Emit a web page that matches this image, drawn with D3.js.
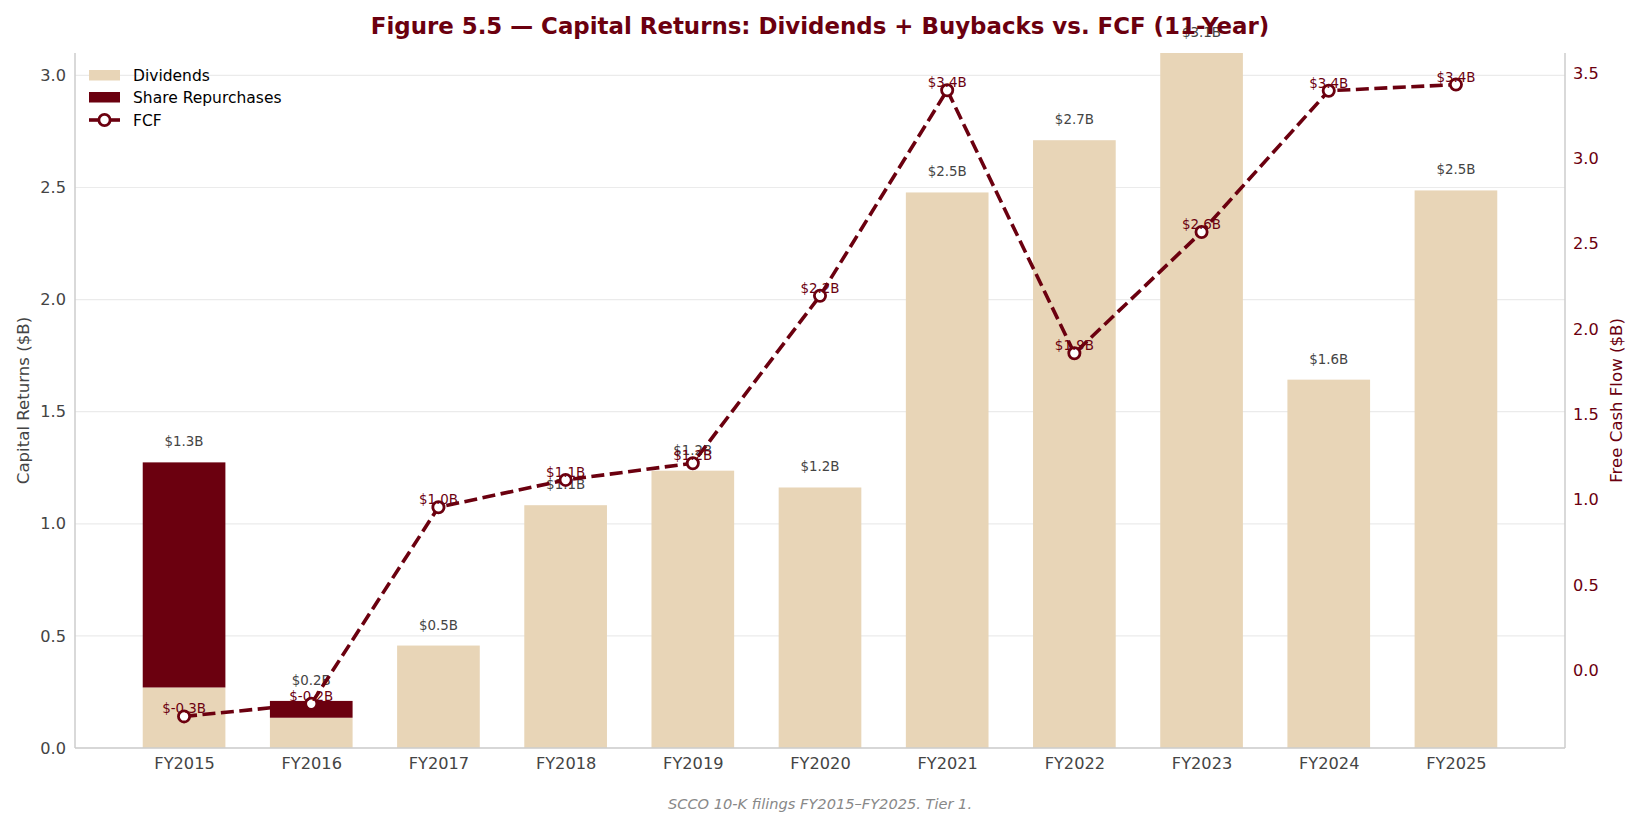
<!DOCTYPE html>
<html>
<head>
<meta charset="utf-8">
<script src="https://cdn.jsdelivr.net/npm/d3@7"></script>
<style>
  body { margin: 0; background: #fff; }
  svg { display: block; font-family: "DejaVu Sans", sans-serif; }
</style>
</head>
<body>
<svg id="display"></svg>
<script>
// data
const years = ['FY2015', 'FY2016', 'FY2017', 'FY2018', 'FY2019', 'FY2020', 'FY2021', 'FY2022', 'FY2023', 'FY2024', 'FY2025']
const dividends = [0.27, 0.135, 0.457, 1.083, 1.237, 1.162, 2.478, 2.711, 3.1, 1.643, 2.487]
const buybacks = [1.004, 0.075, 0, 0, 0, 0, 0, 0, 0, 0, 0]
const fcf = [-0.27, -0.196, 0.956, 1.116, 1.214, 2.195, 3.40, 1.858, 2.569, 3.397, 3.433]
const leftTicks = [0, 0.5, 1.0, 1.5, 2.0, 2.5, 3.0]
const rightTicks = [0, 0.5, 1.0, 1.5, 2.0, 2.5, 3.0, 3.5]

const maroon = '#6b000f'
const sand = '#e8d5b7'
const grey = '#444'

let width = 1640
let height = 827
let m = { left: 75, right: 1565, top: 53, bottom: 748 }

let svg = d3.select('#display')
  .attr('width', width)
  .attr('height', height)

let totals = dividends.map((d, i) => d + buybacks[i])

// x: bar index with matplotlib-like margins
let barW = 0.65
let xPad = barW / 2 + 0.05 * (years.length - 1 + barW)
const xScale = d3.scaleLinear()
  .domain([-xPad, years.length - 1 + xPad])
  .range([m.left, m.right])

const yScale = d3.scaleLinear()
  .domain([0, d3.max(totals)])
  .range([m.bottom, m.top])

let fMin = d3.min(fcf), fMax = d3.max(fcf)
let fPad = 0.05 * (fMax - fMin)
const y2Scale = d3.scaleLinear()
  .domain([fMin - fPad, fMax + fPad])
  .range([m.bottom, m.top])

// gridlines
svg.append('g')
  .selectAll('line')
  .data(leftTicks)
  .enter()
  .append('line')
  .attr('x1', m.left)
  .attr('x2', m.right)
  .attr('y1', d => yScale(d))
  .attr('y2', d => yScale(d))
  .attr('stroke', '#ebebeb')
  .attr('stroke-width', 1.2)

// bars
let bw = xScale(barW) - xScale(0)
svg.append('g')
  .selectAll('rect')
  .data(dividends)
  .enter()
  .append('rect')
  .attr('x', (d, i) => xScale(i) - bw / 2)
  .attr('y', d => yScale(d))
  .attr('width', bw)
  .attr('height', d => m.bottom - yScale(d))
  .attr('fill', sand)

svg.append('g')
  .selectAll('rect')
  .data(buybacks)
  .enter()
  .append('rect')
  .attr('x', (d, i) => xScale(i) - bw / 2)
  .attr('y', (d, i) => yScale(d + dividends[i]))
  .attr('width', bw)
  .attr('height', (d, i) => yScale(dividends[i]) - yScale(d + dividends[i]))
  .attr('fill', maroon)

// total labels
svg.append('g')
  .selectAll('text')
  .data(totals)
  .enter()
  .append('text')
  .attr('x', (d, i) => xScale(i))
  .attr('y', d => yScale(d) - 16)
  .attr('text-anchor', 'middle')
  .attr('font-size', 13.4)
  .attr('fill', grey)
  .text(d => '$' + d.toFixed(1) + 'B')

// spines
svg.append('line').attr('x1', m.left).attr('x2', m.left).attr('y1', m.top).attr('y2', m.bottom)
  .attr('stroke', '#ccc').attr('stroke-width', 1.5)
svg.append('line').attr('x1', m.right).attr('x2', m.right).attr('y1', m.top).attr('y2', m.bottom)
  .attr('stroke', '#ccc').attr('stroke-width', 1.5)
svg.append('line').attr('x1', m.left).attr('x2', m.right).attr('y1', m.bottom).attr('y2', m.bottom)
  .attr('stroke', '#ccc').attr('stroke-width', 1.5)

// axes
const xAxis = d3.axisBottom(xScale).tickValues(d3.range(years.length)).tickFormat(i => years[i]).tickSize(0).tickPadding(9)
const yAxis = d3.axisLeft(yScale).tickValues(leftTicks).tickFormat(d3.format('.1f')).tickSize(0).tickPadding(9)
const y2Axis = d3.axisRight(y2Scale).tickValues(rightTicks).tickFormat(d3.format('.1f')).tickSize(0).tickPadding(8)

let gx = svg.append('g').attr('transform', 'translate(0,' + m.bottom + ')').call(xAxis)
let gy = svg.append('g').attr('transform', 'translate(' + m.left + ',0)').call(yAxis)
let gy2 = svg.append('g').attr('transform', 'translate(' + m.right + ',0)').call(y2Axis)
;[gx, gy, gy2].forEach(g => {
  g.select('.domain').remove()
  g.selectAll('text').attr('font-size', 16.2).attr('font-family', '"DejaVu Sans", sans-serif')
})
gx.selectAll('text').attr('fill', grey)
gy.selectAll('text').attr('fill', grey)
gy2.selectAll('text').attr('fill', maroon)

// axis titles
svg.append('text')
  .attr('transform', 'translate(29,' + (m.top + m.bottom) / 2 + ') rotate(-90)')
  .attr('text-anchor', 'middle')
  .attr('font-size', 16.6)
  .attr('fill', grey)
  .text('Capital Returns ($B)')

svg.append('text')
  .attr('transform', 'translate(1622,' + (m.top + m.bottom) / 2 + ') rotate(-90)')
  .attr('text-anchor', 'middle')
  .attr('font-size', 16.6)
  .attr('fill', maroon)
  .text('Free Cash Flow ($B)')

// FCF line
let line = d3.line()
  .x((d, i) => xScale(i))
  .y(d => y2Scale(d))

svg.append('path')
  .datum(fcf)
  .attr('d', line)
  .attr('fill', 'none')
  .attr('stroke', maroon)
  .attr('stroke-width', 3.6)
  .attr('stroke-dasharray', '13,5.5')

svg.append('g')
  .selectAll('circle')
  .data(fcf)
  .enter()
  .append('circle')
  .attr('cx', (d, i) => xScale(i))
  .attr('cy', d => y2Scale(d))
  .attr('r', 5.6)
  .attr('fill', '#fff')
  .attr('stroke', maroon)
  .attr('stroke-width', 2.8)

svg.append('g')
  .selectAll('text')
  .data(fcf)
  .enter()
  .append('text')
  .attr('x', (d, i) => xScale(i))
  .attr('y', d => y2Scale(d) - 3)
  .attr('text-anchor', 'middle')
  .attr('font-size', 13.4)
  .attr('fill', maroon)
  .text(d => '$' + d.toFixed(1) + 'B')

// legend
let legend = svg.append('g').attr('transform', 'translate(89,0)')
legend.append('rect').attr('x', 0).attr('y', 70).attr('width', 31).attr('height', 10.5).attr('fill', sand)
legend.append('rect').attr('x', 0).attr('y', 92).attr('width', 31).attr('height', 10.5).attr('fill', maroon)
legend.append('line').attr('x1', 0).attr('x2', 31).attr('y1', 120).attr('y2', 120)
  .attr('stroke', maroon).attr('stroke-width', 3.6)
legend.append('circle').attr('cx', 15.5).attr('cy', 120).attr('r', 5.6)
  .attr('fill', '#fff').attr('stroke', maroon).attr('stroke-width', 2.8)
;['Dividends', 'Share Repurchases', 'FCF'].forEach((t, i) => {
  legend.append('text')
    .attr('x', 44)
    .attr('y', 75 + i * 22.5 + 5.5)
    .attr('font-size', 15.5)
    .attr('fill', '#000')
    .text(t)
})

// title and footer
svg.append('text')
  .attr('x', 820)
  .attr('y', 34)
  .attr('text-anchor', 'middle')
  .attr('font-size', 22.9)
  .attr('font-weight', 'bold')
  .attr('fill', maroon)
  .text('Figure 5.5 — Capital Returns: Dividends + Buybacks vs. FCF (11-Year)')

svg.append('text')
  .attr('x', 820)
  .attr('y', 809)
  .attr('text-anchor', 'middle')
  .attr('font-size', 14.6)
  .attr('font-style', 'italic')
  .attr('fill', '#888')
  .text('SCCO 10-K filings FY2015–FY2025. Tier 1.')
</script>
</body>
</html>
